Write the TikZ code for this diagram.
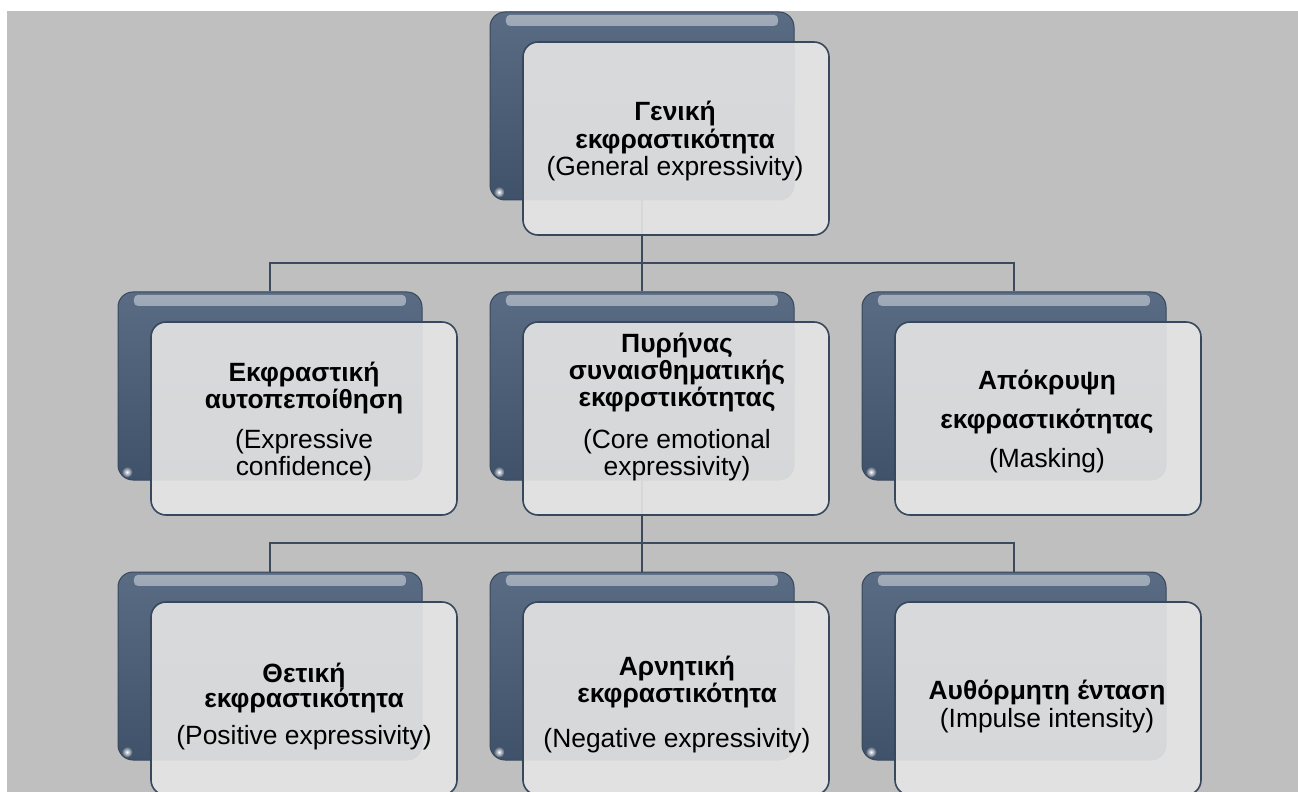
\documentclass[tikz,border=0pt]{standalone}
\usepackage{fontspec}
\setmainfont{Liberation Sans}
\usetikzlibrary{fadings}

\definecolor{bggray}{RGB}{191,191,191}
\definecolor{slatetop}{RGB}{90,108,132}
\definecolor{slatebot}{RGB}{64,82,106}
\definecolor{slateedge}{RGB}{56,72,92}
\definecolor{cardfill}{RGB}{229,229,229}
\definecolor{linkcol}{RGB}{59,74,93}

\tikzset{
  backbox/.style={rectangle, rounded corners=7.5pt, minimum width=152pt, minimum height=94pt,
    inner sep=0pt, draw=slateedge, line width=0.5pt, top color=slatetop, bottom color=slatebot,
    path picture={
      \fill[white, fill opacity=0.45, path fading=south, rounded corners=2pt]
        ([xshift=8pt,yshift=-1.5pt]path picture bounding box.north west) rectangle
        ([xshift=-8pt,yshift=-7pt]path picture bounding box.north east);
      \shade[inner color=white, outer color=slatebot]
        ([xshift=4.5pt,yshift=4pt]path picture bounding box.south west) circle (2.8pt);
    }},
  frontbox/.style={rectangle, rounded corners=7.5pt, minimum width=153pt, minimum height=96.5pt,
    inner sep=0pt, draw=slateedge, line width=0.8pt, fill=cardfill, fill opacity=0.91},
  link/.style={draw=linkcol, line width=1pt},
  boxtext/.style={align=center, inner sep=0pt, font=\fontsize{13.2pt}{13.75pt}\selectfont},
}

\begin{document}
\begin{tikzpicture}[x=0.5pt, y=-0.5pt]
  \useasboundingbox (0,0) rectangle (1298,792);
  \clip (0,0) rectangle (1298,792);
  \fill[white] (0,0) rectangle (1298,792);
  \fill[bggray] (7,11) rectangle (1298,792);
  % back cards
  \node[backbox] (gen-b) at (642,106) {};
  \foreach \n/\x in {conf/270, core/642, mask/1014}
    \node[backbox] (\n-b) at (\x,386) {};
  \foreach \n/\x in {pos/270, neg/642, imp/1014}
    \node[backbox] (\n-b) at (\x,666) {};
  % connectors
  \coordinate (j1) at (642,263);
  \coordinate (j2) at (642,543);
  \foreach \n in {conf,core,mask}
    \draw[link] (gen-b.south) -- (j1) -| (\n-b.north);
  \foreach \n in {pos,neg,imp}
    \draw[link] (core-b.south) -- (j2) -| (\n-b.north);
  % front cards
  \foreach \n/\x/\y in {gen/676/138.5, conf/304/418.5, core/676/418.5, mask/1048/418.5,
                        pos/304/698.5, neg/676/698.5, imp/1048/698.5}
    \node[frontbox] (\n) at (\x,\y) {};
  % texts
  \node[boxtext] (gen-t) at (675,141.5)
    {\textbf{Γενική}\\\textbf{εκφραστικότητα}\\(General expressivity)};
  \node[boxtext] (conf-t) at (304,421.5)
    {\textbf{Εκφραστική}\\\textbf{αυτοπεποίθηση}\\[6pt](Expressive\\confidence)};
  \node[boxtext, font=\fontsize{13.2pt}{13.5pt}\selectfont] (core-t) at (677,407)
    {\textbf{Πυρήνας}\\\textbf{συναισθηματικής}\\\textbf{εκφρστικότητας}\\[7.5pt](Core emotional\\expressivity)};
  \node[boxtext, font=\fontsize{13.2pt}{19.5pt}\selectfont] (mask-t) at (1047,422)
    {\textbf{Απόκρυψη}\\\textbf{εκφραστικότητας}\\(Masking)};
  \node[boxtext, font=\fontsize{13.2pt}{12.5pt}\selectfont] (pos-t) at (304,707)
    {\textbf{Θετική}\\\textbf{εκφραστικότητα}\\[6pt](Positive expressivity)};
  \node[boxtext, font=\fontsize{13.2pt}{12pt}\selectfont] (neg-t) at (677,704.5)
    {\textbf{Αρνητική}\\\textbf{εκφραστικότητα}\\[9pt](Negative expressivity)};
  \node[boxtext, font=\fontsize{13.2pt}{14pt}\selectfont] (imp-t) at (1047,707)
    {\textbf{Αυθόρμητη ένταση}\\(Impulse intensity)};
\end{tikzpicture}
\end{document}
